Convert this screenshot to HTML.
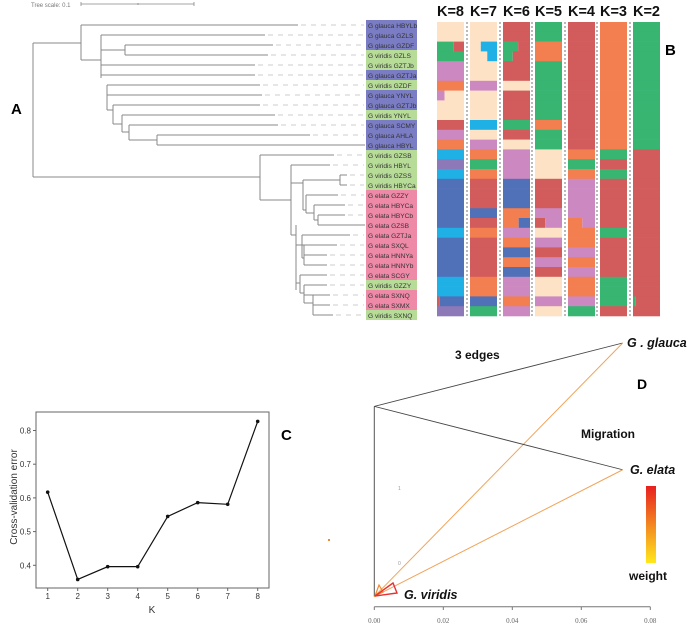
<!DOCTYPE html>
<html><head><meta charset="utf-8"><style>
html,body{margin:0;padding:0;background:#fff;width:693px;height:626px;overflow:hidden}
svg{display:block;font-family:"Liberation Sans",sans-serif}
</style></head><body>
<svg id="fig" width="693" height="626" viewBox="0 0 693 626">
<g id="tree" stroke="#888" stroke-width="1" fill="none"></g>
<g id="labels"></g>
<g id="struct"></g>
<g id="cv"></g>
<g id="tm"></g>
<text x="31" y="7" font-size="6" fill="#777">Tree scale: 0.1</text>
<g stroke="#888" stroke-width="0.8"><line x1="81" y1="4" x2="194" y2="4"/><line x1="81" y1="2" x2="81" y2="6"/><line x1="194" y1="2" x2="194" y2="6"/><line x1="138" y1="3" x2="138" y2="5"/></g>
<text x="11" y="114" font-size="15" font-weight="bold">A</text>
<text x="665" y="55" font-size="15" font-weight="bold">B</text>
<text x="281" y="440" font-size="15" font-weight="bold">C</text>
<text x="637" y="389" font-size="14" font-weight="bold">D</text>
</svg>
<script>
// ---------- Panel A / B data ----------
const sampleNames=["G glauca HBYLb","G glauca GZLS","G glauca GZDF","G viridis GZLS","G viridis GZTJb","G glauca GZTJa","G viridis GZDF","G glauca YNYL","G glauca GZTJb","G viridis YNYL","G glauca SCMY","G glauca AHLA","G glauca HBYL","G viridis GZSB","G viridis HBYL","G viridis GZSS","G viridis HBYCa","G elata GZZY","G elata HBYCa","G elata HBYCb","G elata GZSB","G elata GZTJa","G elata SXQL","G elata HNNYa","G elata HNNYb","G elata SCGY","G viridis GZZY","G elata SXNQ","G elata SXMX","G viridis SXNQ"];
const sampleSpecies="gggvvgvggvgggvvvveeeeeeeeeveev";
const kLabels=["K=8","K=7","K=6","K=5","K=4","K=3","K=2"];
const k8=["P","P","G/R:0.62","G","K","K","O","K/P:0.28","P","P","R","K","O","C","U","C","B","B","B","B","B","C","B","B","B","B","C","C","R/B:0.1","U"];
const k7=["P","P","P/C:0.4","P/C:0.64","P","P","K","P","P","P","C","P","K","O","G","O","R","R","R","B","R","O","R","R","R","R","O","O","B","G"];
const k6=["R","R","G/R:0.56","G/R:0.36","R","R","P","R","R","R","G","R","P","K","K","K","B","B","B","O","O/B:0.58","K","O","B","O","B","K","K","O","K"];
const k5=["G","G","O","O","G","G","G","G","G","G","O","G","G","P","P","P","R","R","R","K","R/K:0.38","P","K","R","K","R","P","P","K","P"];
const k4=["R","R","R","R","R","R","R","R","R","R","R","R","R","O","G","O","K","K","K","K","O/K:0.53","O","O","K","O","K","O","O","K","G"];
const k3=["O","O","O","O","O","O","O","O","O","O","O","O","O","G","R","G","R","R","R","R","R","G","R","R","R","R","G","G","G","R"];
const k2=["G","G","G","G","G","G","G","G","G","G","G","G","G","R","R","R","R","R","R","R","R","R","R","R","R","R","R","R","G/R:0.1","R"];
const kCols=[k8,k7,k6,k5,k4,k3,k2];
const palette={P:"#fde2c6",R:"#d25b5b",G:"#39b572",O:"#f37e50",K:"#cc89c1",B:"#5070b8",C:"#1fb0e6",U:"#8d78b8"};
const labelFill={g:"#7a7cc4",v:"#b7dc98",e:"#ee89a8"};
// ---------- Panel C data ----------
const cvK=[1,2,3,4,5,6,7,8];
const cvErr=[0.617,0.358,0.396,0.396,0.545,0.586,0.581,0.827];
const cvYTicks=[0.4,0.5,0.6,0.7,0.8];
// ---------- Panel D data ----------
const tmXTicks=[0.00,0.02,0.04,0.06,0.08];
const tmPops=["G . glauca","G. elata","G. viridis"];
const tmDrift=[0.072,0.072,0.0];
const tmY=[1.0,0.5,0.0];
const tmRoot=[0.0,0.75];
</script>
<script>
const NS="http://www.w3.org/2000/svg";
function mk(tag,attrs,parent){const e=document.createElementNS(NS,tag);for(const k in attrs)e.setAttribute(k,attrs[k]);parent.appendChild(e);return e;}
const tree=document.getElementById('tree');
const rowY=i=>25+10*i;
const segs=[
[33,43,33,177],[33,43,81,43],[33,177,260,177],
[81,25,81,60],[81,60,101,60],[101,35,101,78],
[101,50,125,50],[125,45,125,55],
[101,75,107,75],[107,85,107,110],[107,110,113,110],[113,105,113,124],[113,124,122,124],[122,115,122,132],[122,132,129,132],[129,125,129,140],[129,140,157,140],[157,135,157,145],
[260,155,260,200],[260,200,291,200],[291,165,291,235],[291,183,303,183],[303,180,303,210],[303,180,340,180],[340,175,340,185],
[303,210,306,210],[306,195,306,213],[306,213,314,213],[314,205,314,220],[314,220,318,220],[318,215,318,225],
[291,235,296,235],[296,225,296,290],[296,245,302,245],[302,235,302,258],[302,258,304,258],[304,245,304,265],
[296,283,300,283],[300,275,300,293],[300,293,304,293],[304,285,304,303],[304,303,313,303],[313,295,313,315]
];
segs.forEach(s=>mk('line',{x1:s[0],y1:s[1],x2:s[2],y2:s[3]},tree));
const leafStart=[81,101,125,125,101,101,107,107,113,122,129,157,157,260,291,340,340,306,314,318,318,302,302,304,304,300,304,304,313,313];
const leafEnd=[298,265,273,268,255,255,260,262,260,275,278,310,365,334,330,347,347,338,345,345,365,350,337,327,327,327,327,330,330,333];
for(let i=0;i<30;i++){
  const l=mk('line',{x1:leafStart[i],y1:rowY(i),x2:leafEnd[i],y2:rowY(i)},tree);
  
  
  if(leafEnd[i]<365) mk('line',{x1:leafEnd[i]+3,y1:rowY(i),x2:364,y2:rowY(i),stroke:"#ccc","stroke-dasharray":"5 5"},tree);
}
const lg=document.getElementById('labels');
sampleNames.forEach((n,i)=>{
  const r=mk('rect',{x:366,y:rowY(i)-5,width:51,height:10,fill:labelFill[sampleSpecies[i]]},lg);
  
  
  const t=mk('text',{x:368,y:rowY(i)+3,"font-size":"6.6",fill:"#333"},lg);
  t.textContent=n;
  
  
});
const sg=document.getElementById('struct');
const colX=[437,470,503,535,568,600,633], colW=27, topY=22, rh=(316-22)/30;
kCols.forEach((col,c)=>{
  const t=mk('text',{x:colX[c]+colW/2,y:16,"font-size":"14.5","font-weight":"bold","text-anchor":"middle",fill:"#111"},sg);
  t.textContent=kLabels[c];
  
  
  col.forEach((code,i)=>{
    const y=topY+i*rh;
    if(code.includes('/')){
      const [pair,f]=code.split(':');const [a,b]=pair.split('/');const w=colW*parseFloat(f);
      const r1=mk('rect',{x:colX[c],y:y,width:w,height:rh+0.3,fill:palette[a]},sg);
      
      
      const r2=mk('rect',{x:colX[c]+w,y:y,width:colW-w,height:rh+0.3,fill:palette[b]},sg);
      
      
    } else {
      const r=mk('rect',{x:colX[c],y:y,width:colW,height:rh+0.3,fill:palette[code]},sg);
      
      
    }
  });
  if(c>0) mk('line',{x1:colX[c]-3,y1:topY,x2:colX[c]-3,y2:316,stroke:"#555","stroke-width":"0.8","stroke-dasharray":"2 2"},sg);
});
const cv=document.getElementById('cv');
const cx0=36,cx1=269,cy0=412,cy1=588;
const xC=k=>47.7+(k-1)*30, yC=v=>565.3-(v-0.4)*337;
const fr=mk('rect',{x:cx0,y:cy0,width:cx1-cx0,height:cy1-cy0,fill:"none",stroke:"#666","stroke-width":"1"},cv);


cvYTicks.forEach(v=>{
  mk('line',{x1:cx0-3,y1:yC(v),x2:cx0,y2:yC(v),stroke:"#666"},cv);
  const t=mk('text',{x:cx0-5,y:yC(v)+3,"font-size":"8","text-anchor":"end",fill:"#333"},cv);
  t.textContent=v.toFixed(1);
  
  
});
cvK.forEach(k=>{
  mk('line',{x1:xC(k),y1:cy1,x2:xC(k),y2:cy1+3,stroke:"#666"},cv);
  const t=mk('text',{x:xC(k),y:cy1+11,"font-size":"8","text-anchor":"middle",fill:"#333"},cv);
  t.textContent=k;
  
  
});
const xt=mk('text',{x:152,y:613,"font-size":"10","text-anchor":"middle",fill:"#333"},cv);xt.textContent="K";


const yt=mk('text',{x:0,y:0,"font-size":"10","text-anchor":"middle",fill:"#333",transform:"translate(17,497) rotate(-90)"},cv);yt.textContent="Cross-validation error";


const ln=mk('polyline',{points:cvK.map((k,i)=>xC(k)+','+yC(cvErr[i])).join(' '),fill:"none",stroke:"#111","stroke-width":"1.2"},cv);


cvErr.forEach((v,i)=>{
  const p=mk('circle',{cx:xC(cvK[i]),cy:yC(v),r:1.8,fill:"#111"},cv);
  
  
});
const tm=document.getElementById('tm');
const xD=d=>374.3+d*3450, yD=r=>596.5-r*(596.5-343);
mk('line',{x1:xD(0),y1:606.7,x2:xD(0.08),y2:606.7,stroke:"#777"},tm);
tmXTicks.forEach(v=>{
  mk('line',{x1:xD(v),y1:606.7,x2:xD(v),y2:610,stroke:"#777"},tm);
  const t=mk('text',{x:xD(v),y:623,"font-size":"7","text-anchor":"middle",fill:"#666","font-family":"Liberation Serif"},tm);
  t.textContent=v.toFixed(2);
  
  
});
const rx=xD(tmRoot[0]), ry=yD(tmRoot[1]);
mk('line',{x1:rx,y1:ry,x2:xD(tmDrift[2]),y2:yD(tmY[2]),stroke:"#555"},tm);
[0,1].forEach(i=>{
  const e=mk('line',{x1:rx,y1:ry,x2:xD(tmDrift[i]),y2:yD(tmY[i]),stroke:"#444","stroke-width":"0.9"},tm);
  
  
  const m=mk('line',{x1:xD(tmDrift[2]),y1:yD(tmY[2]),x2:xD(tmDrift[i]),y2:yD(tmY[i]),stroke:"#f0a45a","stroke-width":"1"},tm);
  
  
});
mk('polygon',{points:"375,596 379,585 383,592",fill:"none",stroke:"#f08a30","stroke-width":"1.2"},tm);
mk('polygon',{points:"375,596 393,583 397,593",fill:"none",stroke:"#e83030","stroke-width":"1.4"},tm);
const lx=[627,630,404], ly=[347,474,599];
tmPops.forEach((n,i)=>{
  const t=mk('text',{x:lx[i],y:ly[i],"font-size":"12.5","font-weight":"bold","font-style":"italic",fill:"#111"},tm);
  t.textContent=n;
  
  
});
const e3=mk('text',{x:455,y:359,"font-size":"12","font-weight":"bold",fill:"#111"},tm);e3.textContent="3 edges";


const mg=mk('text',{x:581,y:438,"font-size":"12","font-weight":"bold",fill:"#111"},tm);mg.textContent="Migration";


const defs=mk('defs',{},tm);const gr=mk('linearGradient',{id:"wg",x1:0,y1:0,x2:0,y2:1},defs);
mk('stop',{offset:"0","stop-color":"#e82020"},gr);mk('stop',{offset:"0.6","stop-color":"#f59a20"},gr);mk('stop',{offset:"1","stop-color":"#ffe81a"},gr);
const cb=mk('rect',{x:646,y:486,width:10,height:77,fill:"url(#wg)"},tm);


const wt=mk('text',{x:629,y:580,"font-size":"12","font-weight":"bold",fill:"#111"},tm);wt.textContent="weight";


[["1",490],["0",565]].forEach(a=>{const t=mk('text',{x:398,y:a[1],"font-size":"5",fill:"#999"},tm);t.textContent=a[0];});
mk('rect',{x:328,y:539,width:2,height:2,fill:"#f08a30"},tm);
</script>
</body></html>
